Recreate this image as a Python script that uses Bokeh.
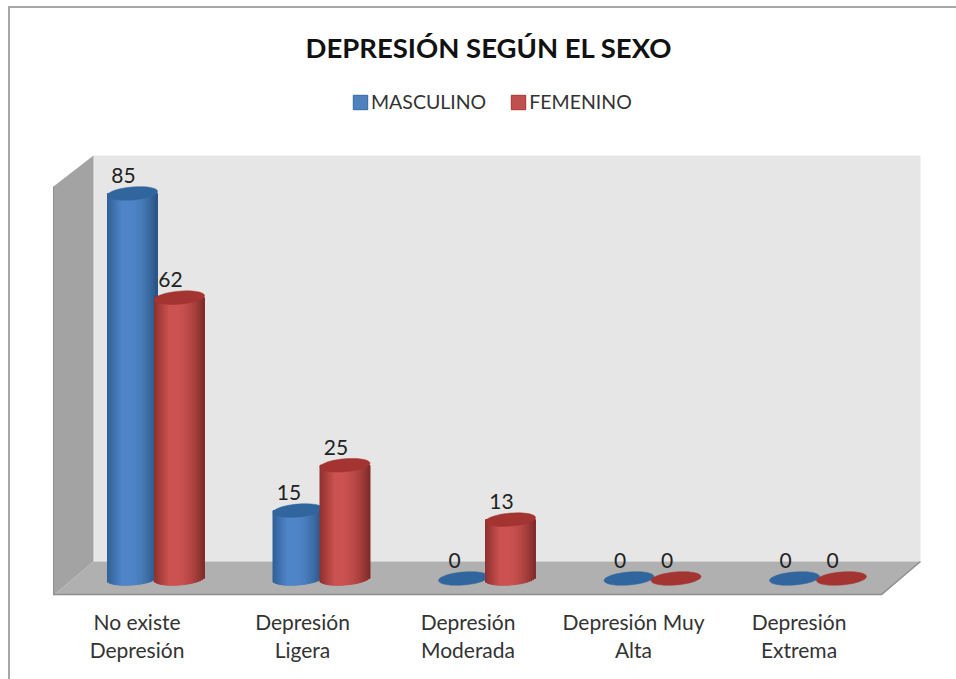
from bokeh.embed import file_html
from bokeh.resources import INLINE
from bokeh.plotting import figure
from bokeh.core.properties import value
from bokeh.models import ColumnDataSource, Range1d, FixedTicker, Legend, LegendItem
import math

categories = ["No existe\nDepresión", "Depresión\nLigera", "Depresión\nModerada",
              "Depresión Muy\nAlta", "Depresión\nExtrema"]
masculino = [85, 15, 0, 0, 0]
femenino = [62, 25, 13, 0, 0]
series_names = ["MASCULINO", "FEMENINO"]

FONT = "Lato"
W, H = 956, 679
PX_PER_GROUP = 165.5
PX_PER_UNIT = 4.53
ORIGIN_X, ORIGIN_Y = 155.5, 578
FRAME_TOP, FRAME_BOTTOM = 85, 595

p = figure(width=W, height=H, output_backend="svg", toolbar_location=None,
           x_range=Range1d((0 - ORIGIN_X) / PX_PER_GROUP, (W - ORIGIN_X) / PX_PER_GROUP),
           y_range=Range1d((ORIGIN_Y - FRAME_BOTTOM) / PX_PER_UNIT, (ORIGIN_Y - FRAME_TOP) / PX_PER_UNIT),
           min_border_left=0, min_border_right=0, min_border_top=FRAME_TOP,
           min_border_bottom=H - FRAME_BOTTOM,
           background_fill_color="white", border_fill_color="white", outline_line_color=None)
p.grid.visible = False
p.yaxis.visible = False
p.extra_x_ranges = {"px": Range1d(0, W)}
p.extra_y_ranges = {"px": Range1d(FRAME_BOTTOM, FRAME_TOP)}

# The chart's outer frame shows only at its top and left
p.stylesheets = [":host::after{content:'';position:absolute;left:8px;top:6px;right:0;bottom:0;"
                 "border-left:2px solid #a8a8a8;border-top:2px solid #a8a8a8;pointer-events:none;}"]

# Title
p.title.text = "DEPRESIÓN SEGÚN EL SEXO"
p.title.align = "left"
p.title.offset = 305
p.title.text_font = FONT
p.title.text_font_style = "bold"
p.title.text_font_size = "27.5px"
p.title.text_color = "#111111"
p.title.standoff = 44

# Category axis
TICK_SHIFT = 19 / PX_PER_GROUP
ticks = [i - TICK_SHIFT for i in range(len(categories))]
ax = p.xaxis[0]
ax.ticker = FixedTicker(ticks=ticks)
ax.major_label_overrides = {t: c for t, c in zip(ticks, categories)}
ax.axis_line_color = None
ax.major_tick_line_color = None
ax.minor_tick_line_color = None
ax.major_label_text_font = FONT
ax.major_label_text_font_size = "21px"
ax.major_label_text_color = "#333333"
ax.major_label_standoff = 7
ax.major_label_text_line_height = 1.12

# 3D chart box (decoration, in page pixels)
deco = dict(x_range_name="px", y_range_name="px", line_color=None)
p.patch([93, 920, 920, 93], [155, 155, 561, 561], fill_color="#e6e6e6", **deco)
p.patch([53, 93, 93, 53], [186, 155, 561, 595], fill_color="#a3a3a3", **deco)
p.patch([53, 93, 920, 881], [595, 561, 561, 595], fill_color="#b0b0b0", **deco)
p.line([53, 881, 920], [594, 594, 561], x_range_name="px", y_range_name="px",
       line_color="#8f8f8f", line_width=1.5)
p.line([53, 53], [186, 595], x_range_name="px", y_range_name="px",
       line_color="#8f8f8f", line_width=1)

HALF_W = 25 / PX_PER_GROUP
OFFSET = 23.5 / PX_PER_GROUP
SEMI = 6.5 / PX_PER_UNIT
TILT = 2 / PX_PER_UNIT
N = 25


def mix(a, b, t):
    return "#%02x%02x%02x" % tuple(round(a[i] + (b[i] - a[i]) * t) for i in range(3))


def shade(t, dark_l, light, dark_r):
    # t runs from -1 (left edge) to 1 (right edge)
    if t < -0.1:
        return mix(dark_l, light, min(1, (t + 1) / 0.6))
    return mix(light, dark_r, max(0, (t + 0.1) / 1.1) ** 1.8)


def cylinders(values, shift, dark_l, light, dark_r, cap):
    left, right, top, bottom, colors = [], [], [], [], []
    cap_x, cap_y = [], []
    for i, v in enumerate(values):
        cx = i + shift
        if v > 0:
            for k in range(N):
                t = -1 + (2 * k + 1) / N
                left.append(cx + HALF_W * (t - 1 / N))
                right.append(cx + HALF_W * (t + 1 / N))
                top.append(v)
                bottom.append(-SEMI * math.sqrt(max(0, 1 - t * t)) + TILT * t)
                colors.append(shade(t, dark_l, light, dark_r))
        angles = [2 * math.pi * a / 48 for a in range(48)]
        cap_x.append([cx + HALF_W * math.cos(a) for a in angles])
        cap_y.append([v + SEMI * math.sin(a) + TILT * math.cos(a) for a in angles])
    p.quad(left=left, right=right, top=top, bottom=bottom, fill_color=colors, line_color=colors,
           line_width=1)
    p.patches(cap_x, cap_y, fill_color=cap, line_color=cap, line_width=0.5)


cylinders(masculino, -OFFSET, (0x30, 0x5f, 0x95), (0x4f, 0x85, 0xc8), (0x28, 0x52, 0x80), "#30669d")
cylinders(femenino, OFFSET, (0x8e, 0x30, 0x2e), (0xcb, 0x52, 0x50), (0x7e, 0x2a, 0x28), "#a33431")

# Value labels
for vals, shift in ((masculino, -OFFSET), (femenino, OFFSET)):
    src = ColumnDataSource(dict(x=[i + shift for i in range(len(vals))], y=vals,
                                t=[str(v) for v in vals]))
    p.text("x", "y", text="t", source=src, x_offset=-9, y_offset=-18,
           text_align="center", text_baseline="middle", text_font=value(FONT),
           text_font_size="21px", text_color="#222222")

# Legend: key swatches come from renderers placed outside the visible range
outside = dict(left=[-50], right=[-49], top=[-50], bottom=[-49])
lm = p.quad(source=ColumnDataSource(outside), left="left", right="right", top="top", bottom="bottom",
            fill_color="#4f81bd", line_color="#30689f")
lf = p.quad(source=ColumnDataSource(outside), left="left", right="right", top="top", bottom="bottom",
            fill_color="#c0504d", line_color="#a33431")
legend = Legend(items=[LegendItem(label=series_names[0], renderers=[lm]),
                       LegendItem(label=series_names[1], renderers=[lf])],
                orientation="horizontal", location=(351, 482), background_fill_alpha=0,
                border_line_color=None, glyph_width=18, glyph_height=18, spacing=23,
                label_standoff=2, margin=0, padding=8,
                label_text_font=FONT, label_text_font_size="19.5px", label_text_color="#333333")
p.add_layout(legend)

open("out.html", "w").write(file_html(p, INLINE))
